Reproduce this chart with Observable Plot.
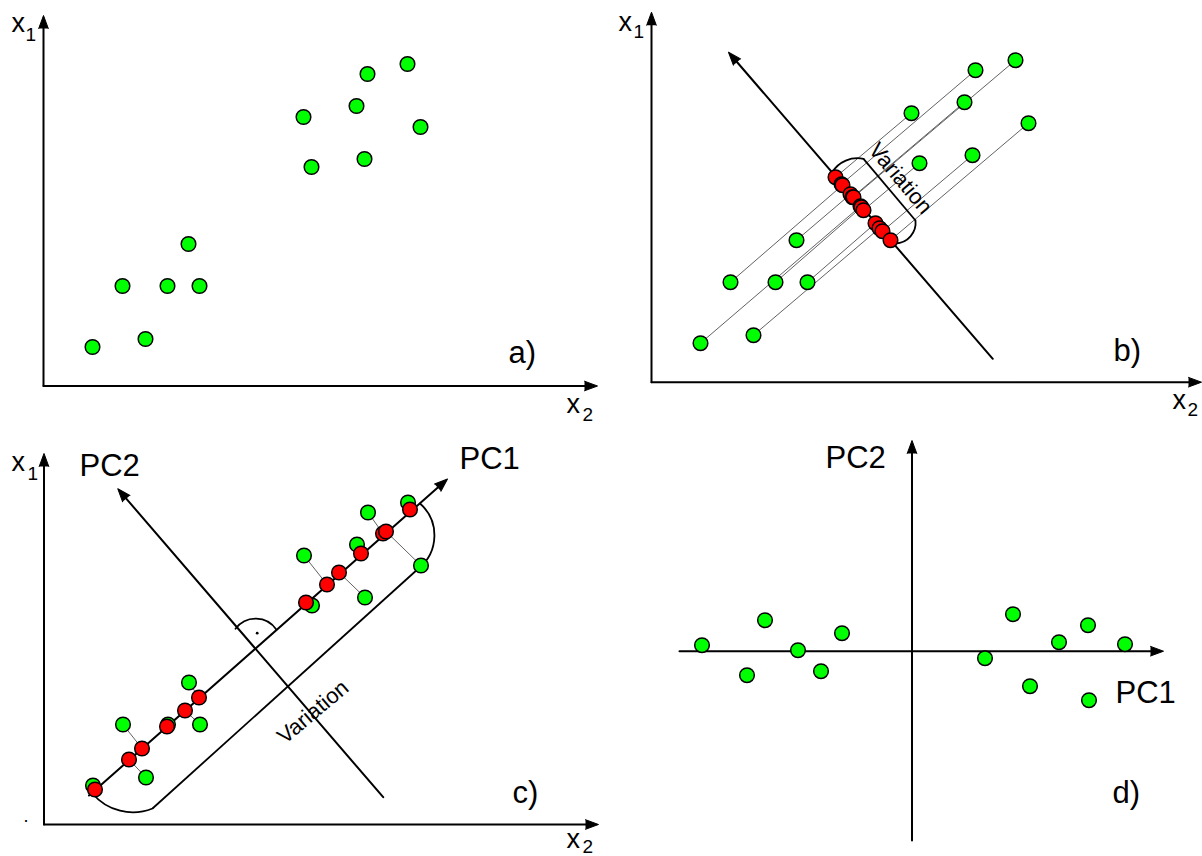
<!DOCTYPE html>
<html><head><meta charset="utf-8">
<script src="https://cdn.jsdelivr.net/npm/d3@7"></script>
<script src="https://cdn.jsdelivr.net/npm/@observablehq/plot@0.6"></script>
<style>html,body{margin:0;padding:0;background:#fff;}#chart svg{display:block;}</style>
</head><body><div id="chart"></div>
<script>
// ---------- data ----------
// observations (x2, x1) shared by panels a, b, c
const obsX2 = [49,79,102,124,145,156,260,268,313,321,324,364,377];
const obsX1 = [39,100,47,100,142,100,269,219,280,227,312,322,259];
// panel b: projections onto the perpendicular direction
const projBX2 = [209,191,228,210,199,224,184,212,201,231,190,202,239];
const projBX1 = [176,197,154,175,188,159,205,172,185,151,198,185,142];
// panel c: projections onto PC1
const projCX2 = [51,98,85,123,155,141,283,262,317,295,339,366,342];
const projCX1 = [35,76,65,98,127,114,240,222,271,252,291,315,293];
// panel d: scores
const scorePC1 = [-210,-147,-165,-114,-91,-70,73,101,118,147,176,177,213];
const scorePC2 = [6,31,-24,1,-20,18,-7,37,-35,9,26,-49,7];
// text
const axisNames = ["x", "x"];
const axisSubs = ["1", "2"];
const pcNames = ["PC1", "PC2"];
const panelTags = ["a)", "b)", "c)", "d)"];
const variationLabel = "Variation";

// ---------- layout ----------
const W = 1202, H = 856;
const F = {
  a: {ox: 43, oy: 385.5},
  b: {ox: 651, oy: 381.7},
  c: {ox: 43.5, oy: 824},
  d: {ox: 911.5, oy: 650.7}
};
const idx = d3.range(obsX2.length);
const X = (p, v) => F[p].ox + v;
const Y = (p, v) => F[p].oy - v;

const GREEN = "#00ff00", RED = "#ff0000";
const FONT = "Liberation Sans, Arial, Helvetica, sans-serif";
const R = 7.3;

// arrows (line + filled head): tip is x2,y2
const arrows = [
  {x1: F.a.ox, y1: F.a.oy, x2: F.a.ox, y2: 15, rot: 0},
  {x1: F.a.ox, y1: F.a.oy, x2: 597, y2: F.a.oy, rot: 90},
  {x1: F.b.ox, y1: F.b.oy, x2: F.b.ox, y2: 11.7, rot: 0},
  {x1: F.b.ox, y1: F.b.oy, x2: 1201, y2: F.b.oy, rot: 90},
  {x1: F.c.ox, y1: F.c.oy, x2: F.c.ox, y2: 453, rot: 0},
  {x1: F.c.ox, y1: F.c.oy, x2: 598, y2: F.c.oy, rot: 90},
  {x1: 911.5, y1: 840, x2: 911.5, y2: 440, rot: 0},
  {x1: 679, y1: F.d.oy, x2: 1163, y2: F.d.oy, rot: 90},
  {x1: 992.3, y1: 358.3, x2: 728, y2: 51.7, rot: -40.8},
  {x1: 88.5, y1: 795, x2: 447, y2: 478.5, rot: 48.6},
  {x1: 382.7, y1: 796.7, x2: 117.3, y2: 488.3, rot: -40.7}
];
// bracket straight parts
const segs = [
  {x1: 863, y1: 158.3, x2: 915, y2: 220},
  {x1: 152, y1: 808, x2: 418, y2: 568}
];
// curved parts (bend in degrees)
const arcs = [
  {x1: 831.7, y1: 171.7, x2: 863, y2: 158.3, bend: 35},
  {x1: 915, y1: 220, x2: 895, y2: 243, bend: 47},
  {x1: 92, y1: 793, x2: 152, y2: 808, bend: -36},
  {x1: 418, y1: 568, x2: 419.5, y2: 503, bend: -50},
  {x1: 235, y1: 628.3, x2: 276, y2: 629.3, bend: 55}
];

const mainText = [
  {t: axisNames[0], x: 11, y: 31.7, s: 27}, {t: axisSubs[0], x: 25, y: 40, s: 19},
  {t: axisNames[1], x: 566, y: 412, s: 27}, {t: axisSubs[1], x: 582, y: 420, s: 19},
  {t: axisNames[0], x: 618, y: 30, s: 27}, {t: axisSubs[0], x: 633, y: 37.5, s: 19},
  {t: axisNames[1], x: 1172, y: 408, s: 27}, {t: axisSubs[1], x: 1187, y: 415.5, s: 19},
  {t: axisNames[0], x: 11, y: 470, s: 27}, {t: axisSubs[0], x: 27, y: 479, s: 19},
  {t: axisNames[1], x: 566, y: 847, s: 27}, {t: axisSubs[1], x: 582, y: 852, s: 19},
  {t: pcNames[1], x: 79, y: 475, s: 31}, {t: pcNames[0], x: 459, y: 468, s: 31},
  {t: pcNames[1], x: 825, y: 467, s: 31}, {t: pcNames[0], x: 1115, y: 702, s: 31},
  {t: panelTags[0], x: 508, y: 362, s: 31}, {t: panelTags[1], x: 1113, y: 360, s: 31},
  {t: panelTags[2], x: 512, y: 802, s: 31}, {t: panelTags[3], x: 1112, y: 802, s: 31},
  {t: ".", x: 23, y: 821, s: 18}
];
const rotText = [
  {t: variationLabel, x: 900, y: 178, r: 50},
  {t: variationLabel, x: 312.5, y: 711.5, r: -40}
];

const idxB = idx.slice().sort((i, j) => projBX2[i] - projBX2[j]);
const idxC = idx.slice().sort((i, j) => projCX2[i] - projCX2[j]);

const marks = [
  // projection lines
  Plot.link(idx, {x1: i => X("b", obsX2[i]), y1: i => Y("b", obsX1[i]), x2: i => X("b", projBX2[i]), y2: i => Y("b", projBX1[i]), stroke: "#3a3a3a", strokeWidth: 0.8}),
  Plot.link(idx, {x1: i => X("c", obsX2[i]), y1: i => Y("c", obsX1[i]), x2: i => X("c", projCX2[i]), y2: i => Y("c", projCX1[i]), stroke: "#3a3a3a", strokeWidth: 0.8}),
  // axes and arrows
  Plot.arrow(arrows, {x1: "x1", y1: "y1", x2: "x2", y2: "y2", headLength: 0, insetEnd: 8, stroke: "black", strokeWidth: 2}),
  Plot.vector(arrows, {x: "x2", y: "y2", rotate: "rot", length: 13, shape: "spike", r: 4.8, anchor: "end", fill: "black", stroke: "black", strokeWidth: 1}),
  // brackets
  Plot.link(segs, {x1: "x1", y1: "y1", x2: "x2", y2: "y2", stroke: "black", strokeWidth: 1.8}),
  ...arcs.map(a => Plot.arrow([a], {x1: "x1", y1: "y1", x2: "x2", y2: "y2", bend: a.bend, headLength: 0, stroke: "black", strokeWidth: 1.8})),
  Plot.dot([0], {x: 256.7, y: 632.7, r: 1.4, fill: "black"}),
  // points
  Plot.dot(idx, {x: i => X("a", obsX2[i]), y: i => Y("a", obsX1[i]), r: R, fill: GREEN, stroke: "black", strokeWidth: 1.5}),
  Plot.dot(idx, {x: i => X("b", obsX2[i]), y: i => Y("b", obsX1[i]), r: R, fill: GREEN, stroke: "black", strokeWidth: 1.5}),
  Plot.dot(idxB, {x: i => X("b", projBX2[i]), y: i => Y("b", projBX1[i]), r: R, fill: RED, stroke: "black", strokeWidth: 1.5}),
  Plot.dot(idx, {x: i => X("c", obsX2[i]), y: i => Y("c", obsX1[i]), r: R, fill: GREEN, stroke: "black", strokeWidth: 1.5}),
  Plot.dot(idxC, {x: i => X("c", projCX2[i]), y: i => Y("c", projCX1[i]), r: R, fill: RED, stroke: "black", strokeWidth: 1.5}),
  Plot.dot(idx, {x: i => X("d", scorePC1[i]), y: i => Y("d", scorePC2[i]), r: R, fill: GREEN, stroke: "black", strokeWidth: 1.5}),
  // text
  ...mainText.map(d => Plot.text([d], {x: "x", y: "y", text: "t", fontSize: d.s, fontFamily: FONT, textAnchor: "start", lineAnchor: "bottom", fill: "black"})),
  ...rotText.map(d => Plot.text([d], {x: "x", y: "y", text: "t", rotate: d.r, fontSize: 22, fontFamily: FONT, textAnchor: "middle", lineAnchor: "middle", fill: "black"}))
];

const chart = Plot.plot({
  width: W, height: H,
  margin: 0, marginTop: 0, marginRight: 0, marginBottom: 0, marginLeft: 0,
  x: {domain: [0, W], range: [0, W], axis: null},
  y: {domain: [0, H], range: [0, H], axis: null},
  style: {background: "white", fontFamily: FONT, overflow: "visible"},
  marks
});
document.getElementById("chart").appendChild(chart);
</script></body></html>
